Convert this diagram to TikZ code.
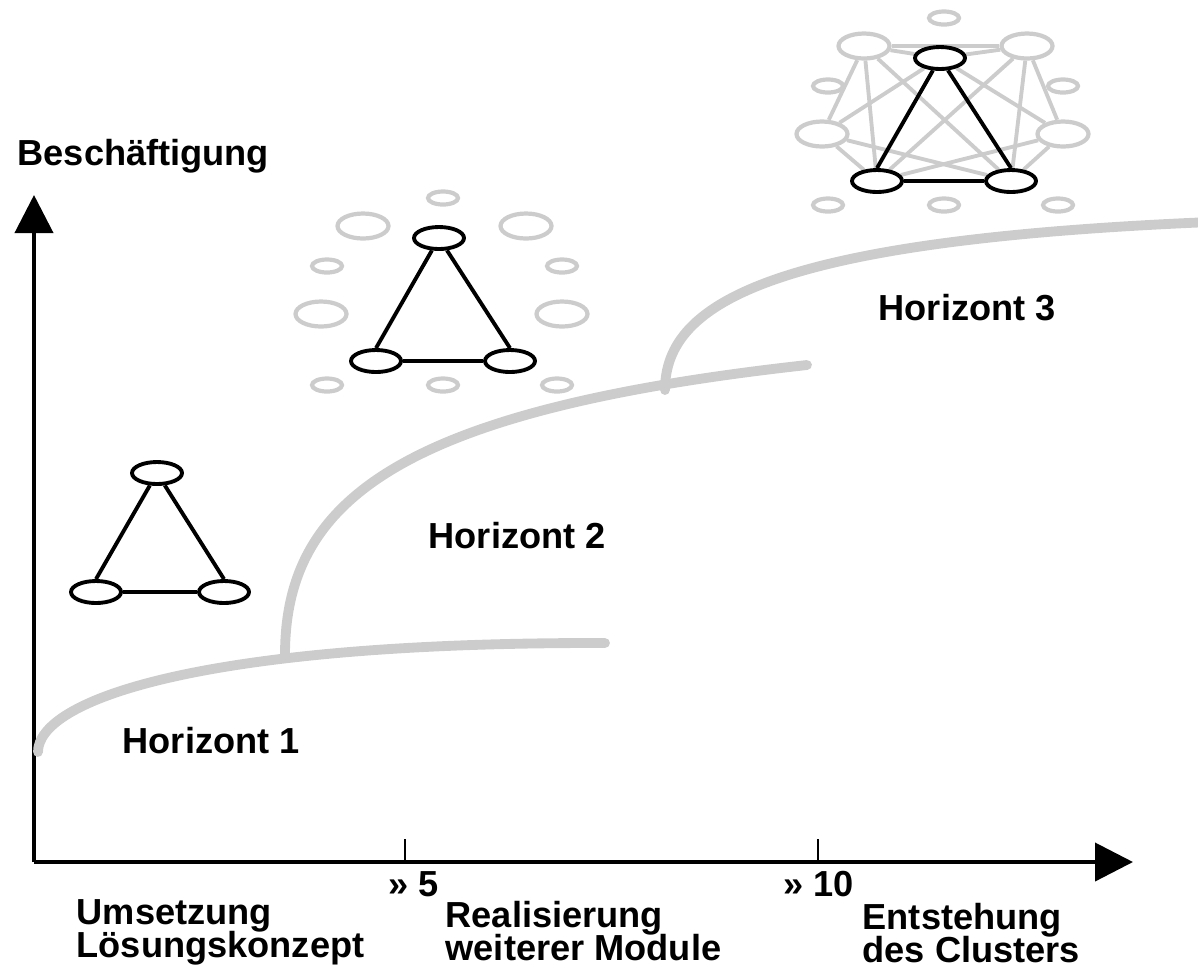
\documentclass[tikz,border=0pt]{standalone}
\usepackage{fontspec}
\setmainfont{Liberation Sans}
\usetikzlibrary{arrows.meta,shapes.geometric,backgrounds}
\newcommand{\lblfont}{\bfseries\fontsize{10.3}{9.4}\selectfont\lineskiplimit=-6pt\relax}

\begin{document}
\begin{tikzpicture}[
    lbl/.style={font=\lblfont,inner sep=0pt,align=left},
    knot/.style={draw,line width=1.1pt,ellipse,fill=white,minimum width=0.5cm,minimum height=0.22cm,inner sep=0pt},
    bigring/.style={draw=black!20,line width=1.2pt,ellipse,fill=white,minimum width=0.51cm,minimum height=0.25cm,inner sep=0pt},
    smallring/.style={draw=black!20,line width=1.2pt,ellipse,minimum width=0.30cm,minimum height=0.13cm,inner sep=0pt},
    tie/.style={line width=1.1pt},
    greytie/.style={black!20,line width=1.1pt},
    horizon/.style={black!20,line width=2.8pt,line cap=round},
    axis/.style={line width=1.15pt,-{Triangle[length=0.38cm,width=0.38cm]}}
]
\useasboundingbox (0,0) rectangle (11.98,-9.69);

% axes
\coordinate (o)    at (0.34,-8.62);
\coordinate (ytip) at (0.34,-1.95);
\coordinate (xtip) at (11.33,-8.62);
\coordinate (t5)   at (4.05,-8.62);
\coordinate (t10)  at (8.18,-8.62);
\draw [axis] (o) -- (ytip);
\draw [axis] (o) -- (xtip);
\draw [line width=0.6pt] (t5) -- ++(0,0.23);
\draw [line width=0.6pt] (t10) -- ++(0,0.23);

% horizons
\draw [horizon] (0.38,-7.52) .. controls (0.38,-7.00) and (2.00,-6.42) .. (6.05,-6.43);
\draw [horizon] (2.85,-6.55) .. controls (2.85,-5.00) and (4.00,-4.10) .. (8.07,-3.65);
\draw [horizon] (6.65,-3.90) .. controls (6.65,-3.00) and (7.80,-2.40) .. (12.10,-2.22);

% horizont 1
\node [knot] (a1) at (1.57,-4.73) {};
\node [knot] (a2) at (0.96,-5.92) {};
\node [knot] (a3) at (2.24,-5.92) {};
\draw [tie] (a1) -- (a2.north);
\draw [tie] (a1) -- (a3.north);
\draw [tie] (a2) -- (a3);

% horizont 2
\foreach \x/\y in {4.43/-1.98,3.27/-2.66,5.62/-2.66,3.27/-3.85,4.43/-3.85,5.57/-3.85}
    \node [smallring] at (\x,\y) {};
\node [bigring] (bul) at (3.63,-2.26) {};
\node [bigring] (bur) at (5.26,-2.26) {};
\node [bigring] (bl)  at (3.21,-3.14) {};
\node [bigring] (br)  at (5.62,-3.14) {};
\node [knot] (b1) at (4.39,-2.38) {};
\node [knot] (b2) at (3.76,-3.61) {};
\node [knot] (b3) at (5.10,-3.61) {};
\draw [tie] (b1) -- (b2.north);
\draw [tie] (b1) -- (b3.north);
\draw [tie] (b2) -- (b3);

% horizont 3
\foreach \x/\y in {9.44/-0.18,8.28/-0.86,10.63/-0.86,8.28/-2.05,9.44/-2.05,10.58/-2.05}
    \node [smallring] at (\x,\y) {};
\node [bigring] (cul) at (8.64,-0.46) {};
\node [bigring] (cur) at (10.27,-0.46) {};
\node [bigring] (cl)  at (8.22,-1.34) {};
\node [bigring] (cr)  at (10.63,-1.34) {};
\node [knot] (c1) at (9.40,-0.58) {};
\node [knot] (c2) at (8.77,-1.81) {};
\node [knot] (c3) at (10.11,-1.81) {};
\begin{pgfonlayer}{background}
\foreach \a/\b in {cul/cur,cul/c1,cur/c1,cul/cl,cul/c2,cul/c3,cur/cr,cur/c3,cur/c2,
                   cl/c1,cr/c1,cl/c2,cl/c3,cr/c3,cr/c2}
    \draw [greytie] (\a) -- (\b);
\end{pgfonlayer}
\draw [tie] (c1) -- (c2.north);
\draw [tie] (c1) -- (c3.north);
\draw [tie] (c2) -- (c3);

% labels
\node [lbl,anchor=base west] (besch) at (0.17,-1.65) {Beschäftigung};
\node [lbl,anchor=base west] (h1) at (1.22,-7.53) {Horizont 1};
\node [lbl,anchor=base west] (h2) at (4.28,-5.48) {Horizont 2};
\node [lbl,anchor=base west] (h3) at (8.78,-3.20) {Horizont 3};
\node [lbl,anchor=base west] (l5)  at (3.88,-8.96) {» 5};
\node [lbl,anchor=base west] (l10) at (7.83,-8.96) {» 10};
\node [lbl,anchor=north west] (p1) at (0.76,-8.99) {Umsetzung\\Lösungskonzept};
\node [lbl,anchor=north west] (p2) at (4.45,-9.01) {Realisierung\\weiterer Module};
\node [lbl,anchor=north west] (p3) at (8.62,-9.03) {Entstehung\\des Clusters};
\end{tikzpicture}
\end{document}
